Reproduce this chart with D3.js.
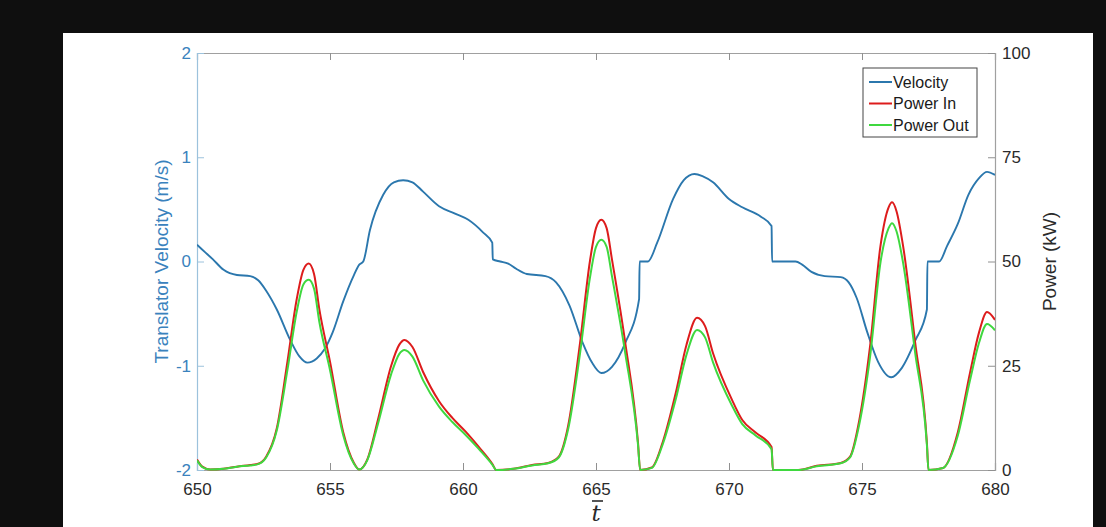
<!DOCTYPE html>
<html>
<head>
<meta charset="utf-8">
<script src="https://cdn.jsdelivr.net/npm/d3@7"></script>
<style>
  body { margin: 0; background: #0f0f0f; }
  svg { display: block; }
</style>
</head>
<body>
<div id="chart"></div>
<script>
// translator velocity (m/s), left axis
const velTime = [650.0, 650.3, 650.6, 651.0, 651.5, 652.0, 652.3, 652.6, 653.0, 653.5, 653.85, 654.15, 654.5, 654.8, 655.1, 655.5, 655.9, 656.1, 656.25, 656.5, 657.0, 657.4, 657.75, 658.1, 658.5, 659.1, 659.7, 660.2, 660.75, 661.1, 661.12, 661.4, 661.7, 662.0, 662.4, 663.1, 663.5, 664.0, 664.5, 664.85, 665.2, 665.6, 666.1, 666.62, 666.64, 666.95, 667.3, 667.9, 668.3, 668.7, 669.0, 669.4, 670.0, 670.5, 671.2, 671.6, 671.62, 672.5, 672.75, 673.1, 673.6, 674.2, 674.5, 674.8, 675.2, 675.6, 676.1, 676.5, 677.0, 677.44, 677.46, 677.9, 678.2, 678.6, 679.0, 679.4, 679.7, 680.0];
const velocity = [0.16, 0.09, 0.02, -0.08, -0.13, -0.14, -0.18, -0.28, -0.46, -0.75, -0.91, -0.97, -0.93, -0.84, -0.68, -0.38, -0.13, -0.03, 0.0, 0.3, 0.64, 0.76, 0.78, 0.76, 0.67, 0.53, 0.46, 0.40, 0.28, 0.18, 0.02, 0.0, -0.02, -0.07, -0.12, -0.14, -0.2, -0.42, -0.78, -0.97, -1.07, -1.01, -0.78, -0.36, 0.0, 0.0, 0.18, 0.6, 0.78, 0.84, 0.82, 0.76, 0.6, 0.52, 0.43, 0.34, 0.0, 0.0, -0.03, -0.1, -0.14, -0.15, -0.2, -0.35, -0.68, -0.96, -1.11, -1.02, -0.76, -0.46, 0.0, 0.0, 0.15, 0.36, 0.64, 0.8, 0.86, 0.83];

// power (kW), right axis
const powTime = [650.0, 650.2, 650.5, 651.0, 651.5, 652.0, 652.3, 652.6, 653.0, 653.4, 653.75, 654.0, 654.2, 654.4, 654.6, 655.0, 655.5, 655.9, 656.1, 656.4, 656.8, 657.3, 657.6, 657.8, 658.1, 658.5, 659.1, 659.6, 660.1, 660.6, 661.1, 661.25, 661.9, 662.6, 663.2, 663.6, 663.95, 664.4, 664.77, 665.0, 665.2, 665.4, 665.6, 666.1, 666.58, 666.66, 667.1, 667.5, 668.0, 668.4, 668.8, 669.1, 669.4, 670.1, 670.5, 671.0, 671.6, 671.65, 672.6, 673.3, 674.2, 674.55, 674.9, 675.3, 675.7, 676.0, 676.13, 676.3, 676.55, 677.0, 677.44, 677.5, 678.05, 678.6, 679.06, 679.4, 679.7, 680.0];
const powerIn = [2.5, 0.8, 0.1, 0.3, 0.8, 1.2, 1.5, 3.2, 10, 26, 41, 48, 49.5, 47, 38.5, 26, 9, 1.7, 0.1, 2.5, 12, 25, 30, 31.2, 29.5, 23.5, 16.5, 12.5, 9.2, 5.5, 1.5, 0, 0.3, 1.2, 1.7, 3.2, 10.5, 30.5, 50, 58, 60, 58, 50.5, 30.5, 6.5, 0, 0.6, 6.5, 18.5, 30, 36.5, 34.5, 28, 17, 12, 9, 5.5, 0, 0, 1, 1.7, 3.2, 12, 29.5, 54, 63, 64.2, 62, 53.5, 30.5, 6.5, 0, 0.5, 9, 23.3, 33, 37.9, 36];
const powerOut = [2.3, 0.7, 0.1, 0.3, 0.8, 1.1, 1.4, 3, 9.5, 24, 38, 44.5, 45.6, 43.5, 35.5, 24, 8.3, 1.5, 0.1, 2.3, 11, 23, 27.8, 28.8, 27.2, 21.5, 15.2, 11.5, 8.4, 5, 1.3, 0, 0.3, 1.1, 1.6, 3, 9.7, 28, 46, 53.5, 55.2, 53.5, 46.5, 28, 6, 0, 0.5, 6, 17, 27.6, 33.6, 31.8, 25.8, 15.6, 11, 8.3, 5, 0, 0, 0.9, 1.6, 3, 11, 27, 50, 58, 59.2, 57.2, 49.5, 28, 6, 0, 0.5, 8.2, 21.5, 30.5, 35, 33.5];

const xTicks = [650, 655, 660, 665, 670, 675, 680];
const velTicks = [-2, -1, 0, 1, 2];
const powTicks = [0, 25, 50, 75, 100];
const legendNames = ["Velocity", "Power In", "Power Out"];

const width = 1106;
const height = 527;
const margin = { top: 53, right: 111, bottom: 57, left: 197 };
const blue = "#2b77ad";
const axisBlue = "#3a82bd";
const colors = [blue, "#dd1c1c", "#3fd83f"];
const font = "'Liberation Sans', Arial, sans-serif";
const plainNum = (d) => String(d);

const svg = d3.select("#chart").append("svg")
    .attr("width", width)
    .attr("height", height);

svg.append("rect")
    .attr("x", 0).attr("y", 0)
    .attr("width", width).attr("height", height)
    .attr("fill", "#0f0f0f");

// white figure panel
svg.append("rect")
    .attr("x", 63).attr("y", 33)
    .attr("width", 1030).attr("height", height - 33)
    .attr("fill", "#ffffff");

const x = d3.scaleLinear()
    .domain([650, 680])
    .range([margin.left, width - margin.right]);

const yVel = d3.scaleLinear()
    .domain([-2, 2])
    .range([height - margin.bottom, margin.top]);

const yPow = d3.scaleLinear()
    .domain([0, 100])
    .range([height - margin.bottom, margin.top]);

svg.append("defs").append("clipPath")
    .attr("id", "plotClip")
    .append("rect")
    .attr("x", margin.left).attr("y", margin.top - 2)
    .attr("width", x.range()[1] - margin.left)
    .attr("height", yVel.range()[0] - margin.top + 4);

// bottom axis, ticks inward
const xAxis = svg.append("g")
    .attr("transform", `translate(0,${height - margin.bottom})`)
    .call(d3.axisBottom(x).tickValues(xTicks).tickSize(-7).tickPadding(13).tickFormat(plainNum));
xAxis.select(".domain").attr("stroke", "#a0a0a0");
xAxis.selectAll(".tick line").attr("stroke", "#909090");
xAxis.selectAll(".tick text")
    .attr("fill", "#2a2a2a")
    .style("font-family", font)
    .style("font-size", "17px");

// top axis line with ticks
const xTop = svg.append("g")
    .attr("transform", `translate(0,${margin.top})`)
    .call(d3.axisTop(x).tickValues(xTicks).tickSize(-7).tickFormat(""));
xTop.select(".domain").attr("stroke", "#a0a0a0");
xTop.selectAll(".tick line").attr("stroke", "#909090");

// left axis (velocity)
const yLeft = svg.append("g")
    .attr("transform", `translate(${margin.left},0)`)
    .call(d3.axisLeft(yVel).tickValues(velTicks).tickSize(-7).tickPadding(6).tickFormat(plainNum));
yLeft.select(".domain").attr("stroke", "#9cc2dc");
yLeft.selectAll(".tick line").attr("stroke", "#9cc2dc");
yLeft.selectAll(".tick text")
    .attr("fill", axisBlue)
    .style("font-family", font)
    .style("font-size", "17px");

// right axis (power)
const yRight = svg.append("g")
    .attr("transform", `translate(${width - margin.right},0)`)
    .call(d3.axisRight(yPow).tickValues(powTicks).tickSize(-7).tickPadding(7).tickFormat(plainNum));
yRight.select(".domain").attr("stroke", "#a0a0a0");
yRight.selectAll(".tick line").attr("stroke", "#909090");
yRight.selectAll(".tick text")
    .attr("fill", "#2a2a2a")
    .style("font-family", font)
    .style("font-size", "17px");

svg.selectAll(".domain").attr("stroke-width", 1.2);

// axis titles
svg.append("text")
    .attr("transform", `translate(168,${(margin.top + height - margin.bottom) / 2}) rotate(-90)`)
    .attr("text-anchor", "middle")
    .attr("fill", axisBlue)
    .style("font-family", font)
    .style("font-size", "19px")
    .text("Translator Velocity (m/s)");

svg.append("text")
    .attr("transform", `translate(1056,${(margin.top + height - margin.bottom) / 2}) rotate(-90)`)
    .attr("text-anchor", "middle")
    .attr("fill", "#2a2a2a")
    .style("font-family", font)
    .style("font-size", "19px")
    .text("Power (kW)");

const xMid = (margin.left + width - margin.right) / 2;
svg.append("text")
    .attr("x", xMid)
    .attr("y", 521)
    .attr("text-anchor", "middle")
    .attr("fill", "#2a2a2a")
    .style("font-family", "'DejaVu Serif', 'Liberation Serif', serif")
    .style("font-style", "italic")
    .style("font-size", "23px")
    .text("t");
svg.append("line")
    .attr("x1", xMid - 4).attr("x2", xMid + 7)
    .attr("y1", 501).attr("y2", 501)
    .attr("stroke", "#2a2a2a")
    .attr("stroke-width", 1.6);

// series
const plot = svg.append("g").attr("clip-path", "url(#plotClip)");

const velLine = d3.line()
    .x((d, i) => x(velTime[i]))
    .y((d) => yVel(d))
    .curve(d3.curveMonotoneX);

const powLine = d3.line()
    .x((d, i) => x(powTime[i]))
    .y((d) => yPow(d))
    .curve(d3.curveMonotoneX);

plot.append("path")
    .datum(velocity)
    .attr("fill", "none")
    .attr("stroke", colors[0])
    .attr("stroke-width", 1.9)
    .attr("d", velLine);

plot.append("path")
    .datum(powerIn)
    .attr("fill", "none")
    .attr("stroke", colors[1])
    .attr("stroke-width", 2)
    .attr("d", powLine);

plot.append("path")
    .datum(powerOut)
    .attr("fill", "none")
    .attr("stroke", colors[2])
    .attr("stroke-width", 2)
    .attr("d", powLine);

// legend
const legend = svg.append("g").attr("transform", "translate(863,68)");
legend.append("rect")
    .attr("width", 114).attr("height", 69)
    .attr("fill", "#ffffff")
    .attr("stroke", "#444")
    .attr("stroke-width", 1);

legendNames.forEach((name, i) => {
    const ly = 14 + i * 21.5;
    legend.append("line")
        .attr("x1", 6).attr("x2", 29)
        .attr("y1", ly).attr("y2", ly)
        .attr("stroke", colors[i])
        .attr("stroke-width", 2);
    legend.append("text")
        .attr("x", 30)
        .attr("y", ly + 5.5)
        .attr("fill", "#1a1a1a")
        .style("font-family", font)
        .style("font-size", "16px")
        .text(name);
});
</script>
</body>
</html>
